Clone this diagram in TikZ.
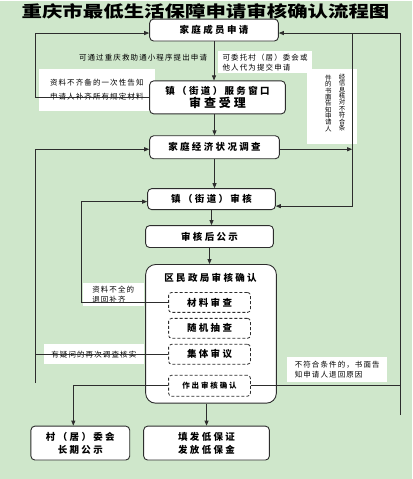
\documentclass[tikz,border=0pt]{standalone}
\usepackage{fontspec}
\setmainfont{Noto Sans CJK SC}
\newfontfamily\boxfont[LetterSpace=25]{Noto Sans CJK SC}
\newfontfamily\notefont[LetterSpace=15]{Noto Sans CJK SC}
\newfontfamily\titlefont[FakeStretch=1.28]{Noto Sans CJK SC}
\usetikzlibrary{arrows.meta}
\definecolor{bggreen}{RGB}{207,231,203}
\definecolor{linegray}{RGB}{45,45,45}

\begin{document}
\begin{tikzpicture} [x=1pt, y=-1pt,
    box/.style = {draw=linegray,
    fill=white,
    rounded corners=4pt,
    line width=0.9pt,
    align=center,
    inner sep=1pt,
    font=\boxfont\bfseries\fontsize{9.5}{13}\selectfont},
    sub/.style = {draw=linegray,
    dash pattern=on 3pt off 2pt,
    rounded corners=3pt,
    line width=0.8pt,
    minimum width=82,
    minimum height=20,
    font=\boxfont\bfseries\fontsize{9.5}{11}\selectfont},
    note/.style = {fill=white,
    align=left,
    inner sep=2pt,
    font=\notefont\fontsize{7.5}{10}\selectfont},
    vtext/.style = {align=center,
    inner sep=0pt,
    font={\notefont\fontsize{6.5}{6.4}\selectfont\lineskiplimit=-10pt\relax}},
    link/.style = {draw=linegray, line width=0.8pt},
    arr/.style = {link, -{Triangle[length=5pt,width=4pt]}}]

\fill[bggreen] (0,0) rectangle (413,479);

\node (T) at (206,10) {\titlefont\bfseries\fontsize{16}{16}\selectfont 重庆市最低生活保障申请审核确认流程图};

% notes on white ground
\node at (211,57) [anchor=east, font=\notefont\fontsize{7.5}{10}\selectfont] {可通过重庆救助通小程序提出申请};
\node (N1) at (218,50) [note, anchor=north west, minimum width=95, minimum height=22] {可委托村（居）委会或\\他人代为提交申请};
\node (N2) at (97,89) [note, minimum width=116, minimum height=42, font=\notefont\fontsize{7.5}{14}\selectfont] {资料不齐备的一次性告知\\申请人补齐所有规定材料};
\node (N3) at (333,105.5) [note, minimum width=50, minimum height=75] {};
\node at (343,101.5) [vtext] {经\\信\\息\\核\\对\\不\\符\\合\\条};
\node at (329,102.5) [vtext] {件\\的\\书\\面\\告\\知\\申\\请\\人};
\node (N4) at (113.5,294.5) [note, minimum width=61, minimum height=23] {资料不全的\\退回补齐};
\node (N5) at (94,354) [note, minimum width=100, minimum height=20] {有疑问的再次调查核实};
\node (N6) at (338,369.5) [note, minimum width=100, minimum height=25] {不符合条件的，书面告\\知申请人退回原因};

% main boxes
\node (A) at (214.5,29) [box, minimum width=129, minimum height=22] {家庭成员申请};
\node (W) at (218,96.5) [box, minimum width=136, minimum height=33]
  {镇（街道）服务窗口\\{\fontsize{12}{13}\selectfont 审查受理}};
\node (S) at (215,146.5) [box, minimum width=130, minimum height=23] {家庭经济状况调查};
\node (V) at (212,198.5) [box, minimum width=128, minimum height=21] {镇（街道）审核};
\node (P) at (210,236) [box, minimum width=128, minimum height=22] {审核后公示};
\node (D) at (211.5,333.5) [box, rounded corners=10pt, minimum width=131, minimum height=139] {};
\node at (211,277) [font=\boxfont\bfseries\fontsize{9.5}{11}\selectfont] {区民政局审核确认};
\node (D1) at (210,302) [sub] {材料审查};
\node (D2) at (210,328) [sub] {随机抽查};
\node (D3) at (210,354) [sub] {集体审议};
\node (D4) at (210,385.5) [sub, minimum height=21, font=\boxfont\bfseries\fontsize{7.5}{9}\selectfont] {作出审核确认};
\node (G) at (207,443) [box, minimum width=126, minimum height=34] {填发低保证\\发放低保金};
\node (C) at (80.5,443) [box, minimum width=99, minimum height=34] {村（居）委会\\长期公示};

% side rails
\coordinate (L1) at (35,0);
\coordinate (L2) at (82,0);
\coordinate (R1) at (353,0);
\coordinate (R2) at (401,0);
\coordinate (Lend) at (35,383);
\coordinate (Rend) at (401,415);

\draw[arr] (A.south) -- (A.south |- W.north);
\draw[arr] (S.north |- W.south) -- (S.north);
\draw[arr] (S.south) -- (S.south |- V.north);
\draw[arr] (V.south) -- (V.south |- P.north);
\draw[arr] (P.south) -- (P.south |- D.north);
\draw[arr] (D.south -| G.north) -- (G.north);

\draw[arr] (W.west) -- (W.west -| L1) |- ([yshift=-3pt]A.west);
\draw[arr] (Lend) |- ([yshift=-2pt]S.west);
\draw[link] (D3.west) -- (D3.west -| L1);
\draw[arr] (D1.west) -- (D1.west -| L2) |- ([yshift=-2.5pt]V.west);
\draw[arr] ([yshift=-2pt]S.east) -- ([yshift=-2pt]S.east -| R1);
\draw[arr] ([yshift=-3pt]A.east -| R1) |- ([yshift=-7pt]V.east);
\draw[arr] (Rend) |- ([yshift=-3pt]A.east);
\draw[link] (D4.east) -- (D4.east -| R2);
\draw[arr] (D4.west) -| ([xshift=-7pt]C.north);

\end{tikzpicture}
\end{document}
